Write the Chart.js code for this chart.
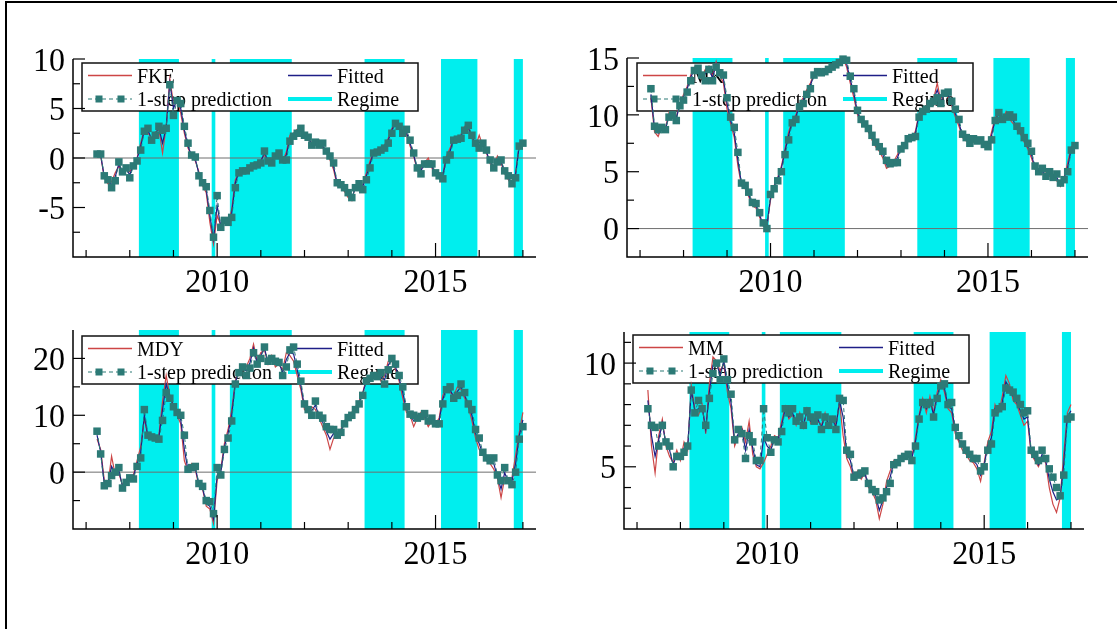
<!DOCTYPE html>
<html>
<head>
<meta charset="utf-8">
<script src="https://cdn.jsdelivr.net/npm/chart.js@4.4.1/dist/chart.umd.min.js"></script>
<style>
  html, body { margin: 0; padding: 0; background: #fff; }
  #page { position: relative; width: 1117px; height: 629px; overflow: hidden; background: #fff; }
  #page canvas { position: absolute; left: 0; top: 0; }
  #frame { position: absolute; left: 5px; top: 1px; width: 1112px; height: 628px;
           border-top: 2px solid #000; border-left: 2px solid #000; box-sizing: border-box; }
</style>
</head>
<body>
<div id="page">
  <div id="frame"></div>
  <canvas id="fke" width="1117" height="629"></canvas>
  <canvas id="mk" width="1117" height="629"></canvas>
  <canvas id="mdy" width="1117" height="629"></canvas>
  <canvas id="mm" width="1117" height="629"></canvas>
</div>
<script>
// monthly observations, April 2007 - January 2017
const startYear = 2007;
const startMonth = 4;

const xTickYears = [2007, 2008, 2009, 2010, 2011, 2012, 2013, 2014, 2015, 2016, 2017];
const xLabelYears = [2010, 2015];

// 1 = month inside the regime
const regime = [
  0,0,0,0,0,0,0,0,0,0, 0,0,1,1,1,1,1,1,1,1, 1,1,1,0,0,0,0,0,0,0,
  0,0,1,0,0,0,0,1,1,1, 1,1,1,1,1,1,1,1,1,1, 1,1,1,1,0,0,0,0,0,0,
  0,0,0,0,0,0,0,0,0,0, 0,0,0,0,1,1,1,1,1,1, 1,1,1,1,1,0,0,0,0,0,
  0,0,0,0,0,1,1,1,1,1, 1,1,1,1,1,0,0,0,0,0, 0,0,0,0,0,1,1,1
];

// FKE
const fkeActual = [
  0.5,0.2,-2.0,-2.6,-2.4,-1.5,-0.8,-1.6,-1.2,-1.4,
  -0.6,0.0,1.5,2.9,2.5,2.0,2.6,2.9,0.5,3.2,
  8.0,5.5,6.0,4.5,2.5,1.0,0.2,-0.3,-1.4,-2.8,
  -3.5,-6.5,-8.7,-5.8,-6.8,-6.2,-6.6,-5.2,-2.2,-1.4,
  -1.5,-1.0,-1.2,-0.6,-0.9,-0.2,0.3,-0.4,-0.1,0.4,
  0.3,-0.3,0.6,2.3,2.5,2.9,2.8,2.0,1.8,1.6,
  1.4,1.8,1.0,0.5,-0.2,-1.2,-2.8,-2.9,-3.4,-4.0,
  -4.3,-2.8,-2.9,-2.7,-1.5,-0.3,0.6,0.8,0.9,1.3,
  2.0,3.0,3.6,2.9,2.6,2.4,1.2,0.2,-1.3,-1.1,
  -0.5,0.0,-1.0,-1.7,-2.0,-1.6,0.2,1.0,2.0,1.7,
  2.4,3.2,3.0,2.0,1.2,2.3,1.2,0.5,-0.6,-0.8,
  0.2,-0.5,-1.6,-2.2,-2.8,-1.5,1.4,1.6
];
const fkeFitted = [
  0.4,0.3,-1.9,-2.4,-2.7,-1.9,-0.6,-1.5,-1.1,-1.7,
  -0.7,-0.1,1.2,2.8,2.8,1.9,2.5,3.0,1.5,3.1,
  7.6,5.0,5.9,5.0,2.8,1.2,0.2,-0.1,-1.6,-2.6,
  -3.2,-5.8,-8.2,-4.8,-6.9,-6.2,-6.5,-5.6,-2.5,-1.4,
  -1.4,-1.1,-1.1,-0.7,-0.8,-0.3,0.5,-0.3,-0.3,0.3,
  0.4,-0.2,0.3,2.0,2.4,2.7,2.9,2.2,1.9,1.5,
  1.5,1.5,1.2,0.6,0.0,-0.9,-2.6,-2.8,-3.2,-3.8,
  -4.1,-2.9,-2.7,-2.9,-1.8,-0.6,0.6,0.7,0.8,1.2,
  1.8,2.8,3.6,3.0,2.5,2.6,1.5,0.3,-1.1,-1.3,
  -0.5,-0.3,-0.8,-1.6,-1.9,-1.8,0.0,0.7,1.9,1.8,
  2.2,3.0,3.1,2.2,1.3,1.6,1.3,0.6,-0.4,-0.9,
  -0.1,-0.3,-1.5,-2.0,-2.7,-1.7,1.3,1.5
];
const fkePred = [
  0.4,0.4,-1.8,-2.2,-3.0,-2.3,-0.4,-1.4,-1.0,-2.0,
  -0.8,-0.3,0.8,2.7,3.0,1.8,2.3,3.2,2.8,3.0,
  7.4,4.3,5.8,5.5,3.2,1.5,0.3,0.1,-1.8,-2.5,
  -2.9,-5.3,-8.0,-3.8,-7.0,-6.3,-6.5,-6.0,-3.0,-1.5,
  -1.3,-1.3,-1.0,-0.8,-0.7,-0.5,0.7,-0.3,-0.5,0.2,
  0.5,-0.2,-0.2,1.7,2.2,2.5,3.0,2.3,2.1,1.3,
  1.6,1.3,1.5,0.7,0.2,-0.5,-2.5,-2.7,-3.0,-3.5,
  -4.0,-3.0,-2.6,-3.2,-2.2,-1.0,0.5,0.6,0.8,1.0,
  1.5,2.5,3.5,3.2,2.5,2.9,1.8,0.5,-1.0,-1.6,
  -0.6,-0.6,-0.6,-1.5,-1.8,-2.1,-0.2,0.3,1.8,1.9,
  2.0,2.8,3.3,2.3,1.5,1.0,1.5,0.8,-0.2,-1.0,
  -0.4,-0.2,-1.3,-1.8,-2.6,-2.0,1.2,1.5
];
const fkeYTicks = [-7.5, -5, -2.5, 0, 2.5, 5, 7.5, 10];
const fkeYLabels = [-5, 0, 5, 10];

// MK
const mkActual = [
  11.5,8.5,8.1,9.0,8.8,10.2,9.7,9.8,11.0,11.8,
  12.5,13.5,14.2,13.8,13.2,14.0,14.3,13.4,14.7,13.5,
  12.8,10.5,9.2,8.0,5.5,3.8,3.5,2.8,2.0,1.8,
  1.0,0.2,0.3,2.5,3.8,4.5,5.5,7.0,8.5,9.5,
  10.0,11.0,11.5,12.2,12.8,13.6,13.7,13.9,14.0,14.2,
  14.4,14.6,14.8,15.0,14.2,12.8,11.5,10.0,9.3,9.0,
  8.5,7.8,7.2,6.8,6.2,5.3,5.5,5.9,6.5,7.2,
  7.5,8.0,7.8,8.6,10.2,10.4,10.8,11.2,11.4,12.8,
  11.2,12.0,11.5,10.8,9.8,9.0,8.0,7.7,7.8,7.6,
  7.9,7.5,7.3,7.3,8.5,9.8,10.0,9.5,10.3,9.6,
  9.2,8.7,8.3,7.6,7.0,6.2,5.2,5.1,4.8,4.9,
  4.6,4.7,4.2,3.7,4.5,5.8,7.2,7.5
];
const mkFitted = [
  11.8,8.8,8.4,9.0,8.7,10.0,9.8,9.7,10.9,11.6,
  12.3,13.3,14.0,13.9,13.3,13.6,14.2,13.2,14.5,13.6,
  13.2,11.0,9.5,8.4,6.0,3.9,3.6,3.0,2.1,2.0,
  1.2,0.3,0.1,2.8,3.7,4.4,5.3,6.8,8.2,9.4,
  9.8,10.9,11.3,12.0,12.6,13.5,13.7,13.8,13.9,14.1,
  14.3,14.5,14.7,14.9,14.5,13.1,11.9,10.2,9.4,9.1,
  8.6,8.0,7.4,7.0,6.5,5.6,5.6,5.8,6.2,7.1,
  7.4,7.9,7.9,8.4,10.0,10.3,10.6,11.1,11.3,12.2,
  11.1,11.9,11.8,11.0,10.1,9.3,8.1,7.8,7.6,7.7,
  7.8,7.6,7.4,7.2,8.2,9.6,10.1,9.6,10.0,9.8,
  9.5,8.8,8.4,7.8,7.2,6.5,5.3,5.0,5.0,4.7,
  4.8,4.6,4.5,3.8,4.4,5.4,7.0,7.4
];
const mkPred = [
  12.3,9.0,8.7,8.9,8.7,9.8,10.0,9.5,10.8,11.3,
  12.0,13.0,13.9,14.1,13.5,13.0,14.0,13.0,14.2,13.7,
  13.5,11.5,9.8,8.9,6.7,4.0,3.8,3.2,2.3,2.2,
  1.4,0.5,0.0,3.0,3.5,4.2,5.0,6.5,7.8,9.3,
  9.6,10.7,11.0,11.8,12.3,13.5,13.8,13.7,13.8,14.0,
  14.2,14.4,14.6,14.9,14.8,13.4,12.3,10.4,9.6,9.2,
  8.8,8.2,7.6,7.2,6.8,6.0,5.7,5.8,5.8,7.0,
  7.3,7.9,8.0,8.1,9.8,10.3,10.5,11.0,11.2,11.5,
  11.0,11.9,12.0,11.2,10.5,9.6,8.3,8.0,7.5,7.9,
  7.7,7.8,7.4,7.2,7.8,9.5,10.2,9.6,9.8,10.0,
  9.8,9.0,8.6,8.0,7.5,6.8,5.5,5.0,5.3,4.6,
  5.0,4.5,4.8,4.0,4.3,5.0,6.9,7.3
];
const mkYTicks = [0, 2.5, 5, 7.5, 10, 12.5, 15];
const mkYLabels = [0, 5, 10, 15];

// MDY
const mdyActual = [
  5.8,4.0,-1.5,-2.2,2.8,-0.5,-0.2,-2.3,-1.5,-1.5,
  -0.5,2.0,4.5,9.5,6.0,6.2,5.8,6.5,12.5,17.0,
  13.5,11.8,10.0,8.5,2.0,0.2,1.5,0.5,-2.5,-3.0,
  -6.0,-6.5,-9.0,-1.5,0.5,5.0,7.5,11.0,16.0,18.0,
  18.0,18.5,20.0,22.5,19.5,21.0,21.5,19.0,20.5,18.5,
  19.0,18.0,21.0,20.5,19.5,17.0,14.5,11.0,10.5,11.5,
  11.0,9.5,8.0,6.5,4.0,6.0,6.0,7.5,9.0,10.0,
  10.5,11.5,12.5,14.0,16.5,17.0,16.5,17.5,16.0,17.0,
  19.5,19.5,18.0,16.0,13.0,10.5,10.0,8.0,9.5,10.5,
  9.5,8.0,9.0,8.5,9.5,13.5,15.0,14.0,13.5,15.0,
  14.5,13.0,11.5,9.0,6.0,4.0,3.0,2.0,1.5,0.5,
  -1.0,-4.5,-1.0,-2.0,-1.0,3.0,7.0,10.5
];
const mdyFitted = [
  6.5,3.5,-2.0,-2.1,1.0,-0.3,0.3,-2.5,-1.6,-1.3,
  -0.8,1.5,3.5,10.0,6.2,6.2,5.9,6.2,11.0,15.5,
  13.2,11.6,10.2,9.2,4.0,0.3,1.2,0.8,-2.2,-2.8,
  -5.5,-6.0,-8.2,-0.5,0.0,4.5,6.8,10.0,15.8,17.8,
  18.2,17.8,19.2,21.8,19.2,20.5,21.8,19.2,20.2,19.0,
  19.2,17.5,19.8,21.0,20.8,18.0,15.2,11.5,10.8,10.8,
  11.8,9.8,8.8,7.2,5.8,6.8,6.2,7.2,8.8,9.8,
  10.2,11.2,12.2,13.8,16.2,16.8,16.8,17.2,16.8,16.2,
  18.8,19.8,18.5,16.5,14.0,11.0,10.1,9.0,9.5,10.2,
  9.9,8.5,9.2,8.5,9.0,12.8,14.8,14.5,13.2,14.2,
  15.0,13.5,11.8,10.0,6.8,5.0,3.2,2.2,1.8,1.5,
  -0.8,-3.0,-0.1,-1.8,-1.6,1.5,6.4,9.2
];
const mdyPred = [
  7.2,3.2,-2.4,-2.0,-0.6,0.0,0.8,-2.8,-1.8,-1.0,
  -1.2,1.0,2.5,11.0,6.5,6.2,6.0,5.8,9.1,14.0,
  13.0,11.5,10.5,10.0,6.5,0.5,0.8,1.0,-2.0,-2.5,
  -5.0,-5.2,-7.3,0.8,-0.5,4.0,6.0,9.0,15.5,17.5,
  18.5,17.0,18.3,21.0,19.0,20.0,22.0,19.5,20.0,19.5,
  19.3,17.0,18.5,21.5,22.0,19.0,16.0,12.0,11.0,10.0,
  12.5,10.0,9.5,8.0,7.5,7.5,6.5,7.0,8.5,9.6,
  10.0,11.0,12.0,13.5,16.0,16.5,17.0,16.8,17.5,15.5,
  18.0,20.0,19.0,17.0,15.0,11.5,10.2,10.0,9.5,9.8,
  10.3,9.0,9.5,8.5,8.5,12.0,14.5,15.0,13.0,13.5,
  15.5,14.0,12.0,11.0,7.5,6.0,3.5,2.5,2.0,2.5,
  -0.5,-1.5,0.8,-1.5,-2.2,0.0,5.8,8.0
];
const mdyYTicks = [-5, 0, 5, 10, 15, 20];
const mdyYLabels = [0, 10, 20];

// MM
const mmActual = [
  8.7,6.0,4.7,6.5,7.3,6.0,5.5,5.2,5.8,5.3,
  6.2,5.8,8.9,7.8,7.5,8.0,6.6,9.0,10.3,10.1,
  9.6,10.0,8.6,7.8,6.0,6.5,6.9,6.2,7.2,5.6,
  5.0,4.9,5.2,5.6,6.0,6.5,6.4,7.2,7.9,7.3,
  7.5,7.0,7.6,6.9,7.8,7.1,7.5,7.2,7.0,7.6,
  6.9,7.4,7.0,8.1,6.5,5.4,5.0,4.4,4.8,4.4,
  4.7,4.0,3.8,3.4,2.5,3.2,4.3,4.8,5.3,5.1,
  5.5,5.6,5.7,5.5,6.4,7.5,8.3,7.6,8.4,7.6,
  8.6,9.2,8.6,7.8,7.6,6.6,6.2,5.8,5.6,5.3,
  5.2,4.9,4.3,5.2,6.2,6.7,8.0,7.6,8.4,9.4,
  9.0,8.2,8.0,7.5,7.0,7.2,5.6,5.3,5.0,5.4,
  5.2,4.0,3.2,2.8,3.5,5.6,7.6,8.0
];
const mmFitted = [
  8.2,6.5,5.5,6.3,7.1,6.1,5.8,5.1,5.6,5.4,
  5.9,5.9,8.7,7.7,7.8,7.9,6.8,8.6,9.9,10.0,
  9.4,10.1,8.9,8.1,6.2,6.6,6.8,5.8,6.8,5.9,
  5.1,5.0,6.4,6.0,5.8,6.4,6.3,7.0,7.8,7.4,
  7.6,7.1,7.5,7.0,7.7,7.2,7.3,7.3,6.9,7.5,
  7.0,7.3,6.9,8.2,7.4,5.6,5.3,4.5,4.7,4.5,
  4.7,4.1,3.8,3.6,2.9,3.4,4.0,4.5,5.2,5.1,
  5.4,5.5,5.6,5.4,6.2,7.4,8.2,7.8,8.2,7.5,
  8.4,9.0,8.8,7.9,7.8,6.8,6.3,6.0,5.7,5.5,
  5.3,5.1,4.6,5.1,6.0,6.4,7.8,7.7,8.1,9.1,
  8.8,8.4,8.1,7.7,7.3,7.4,5.7,5.4,5.1,5.6,
  5.3,4.4,3.8,3.4,3.5,5.1,7.4,7.7
];
const mmPred = [
  7.8,7.0,6.9,6.0,7.0,6.2,6.0,5.0,5.5,5.5,
  5.7,6.0,8.7,7.6,8.2,7.8,7.0,8.3,9.5,10.0,
  9.2,10.2,9.2,8.5,6.3,6.8,6.6,5.4,6.5,6.2,
  5.3,5.3,7.8,6.4,5.7,6.3,6.2,6.7,7.8,7.6,
  7.8,7.2,7.4,7.0,7.7,7.4,7.2,7.5,6.8,7.4,
  7.0,7.3,6.8,8.3,8.2,5.8,5.6,4.5,4.6,4.7,
  4.8,4.2,3.9,3.8,3.4,3.5,3.8,4.2,5.1,5.2,
  5.4,5.5,5.6,5.3,6.0,7.3,8.1,8.0,8.1,7.4,
  8.3,8.9,9.0,8.0,8.1,6.9,6.5,6.1,5.8,5.6,
  5.4,5.4,4.8,5.0,5.8,6.1,7.6,7.8,7.9,8.8,
  8.7,8.6,8.3,8.0,7.6,7.7,5.8,5.6,5.3,5.8,
  5.4,4.9,4.5,4.0,3.6,4.6,7.3,7.4
];
const mmYTicks = [3, 4, 5, 6, 7, 8, 9, 10, 11];
const mmYLabels = [5, 10];

const RED = 'rgb(205,70,70)';
const BLUE = 'rgb(30,30,135)';
const TEAL = 'rgb(44,122,118)';
const CYAN = 'rgb(0,238,238)';
const W = 1117, H = 629;

const months = regime.map((_, i) => startYear + (startMonth - 1 + i) / 12);
const toPoints = values => values.map((v, i) => ({ x: months[i], y: v }));

const panels = [
  { id: 'fke', name: 'FKE', actual: fkeActual, fitted: fkeFitted, pred: fkePred,
    yMin: -10, yMax: 10, yTicks: fkeYTicks, yLabels: fkeYLabels,
    area: { left: 73, top: 59, right: 536, bottom: 257 }, legend: { x: 82, y: 63 } },
  { id: 'mk', name: 'MK', actual: mkActual, fitted: mkFitted, pred: mkPred,
    yMin: -2.5, yMax: 15, yTicks: mkYTicks, yLabels: mkYLabels,
    area: { left: 627, top: 58, right: 1088, bottom: 257 }, legend: { x: 637, y: 63 } },
  { id: 'mdy', name: 'MDY', actual: mdyActual, fitted: mdyFitted, pred: mdyPred,
    yMin: -10, yMax: 25, yTicks: mdyYTicks, yLabels: mdyYLabels,
    area: { left: 73, top: 330, right: 536, bottom: 529 }, legend: { x: 82, y: 336 } },
  { id: 'mm', name: 'MM', actual: mmActual, fitted: mmFitted, pred: mmPred,
    yMin: 2, yMax: 11.5, yTicks: mmYTicks, yLabels: mmYLabels,
    area: { left: 624, top: 332, right: 1084, bottom: 529 }, legend: { x: 633, y: 335 } }
];

// text a little taller than wide, like the original export
function drawText(ctx, s, x, y, sy) {
  ctx.save();
  ctx.translate(x, y);
  ctx.scale(1, sy);
  ctx.fillText(s, 0, 0);
  ctx.restore();
}

function drawLegend(chart, p) {
  const ctx = chart.ctx;
  const labels = chart.data.datasets.map(d => d.label);
  const bx = p.legend.x, by = p.legend.y, w = 336, h = 48;
  const r1 = by + 12.5, r2 = by + 36;
  ctx.save();
  ctx.fillStyle = '#fff';
  ctx.fillRect(bx, by, w, h);
  ctx.strokeStyle = '#111';
  ctx.lineWidth = 1.5;
  ctx.strokeRect(bx, by, w, h);

  const sample = (x0, y, color, width, dash) => {
    ctx.strokeStyle = color;
    ctx.lineWidth = width;
    ctx.setLineDash(dash || []);
    ctx.beginPath();
    ctx.moveTo(x0, y);
    ctx.lineTo(x0 + 44, y);
    ctx.stroke();
    ctx.setLineDash([]);
  };
  sample(bx + 6, r1, RED, 1.5);
  sample(bx + 206, r1, BLUE, 1.5);
  sample(bx + 6, r2, TEAL, 1.2, [4, 3]);
  ctx.fillStyle = TEAL;
  ctx.fillRect(bx + 17 - 3.5, r2 - 3.5, 7, 7);
  ctx.fillRect(bx + 39 - 3.5, r2 - 3.5, 7, 7);
  sample(bx + 206, r2, CYAN, 4);

  ctx.fillStyle = '#000';
  ctx.font = '20px "Liberation Serif", "Times New Roman", serif';
  ctx.textAlign = 'left';
  drawText(ctx, labels[0], bx + 55, r1 + 7.3, 1.1);
  drawText(ctx, labels[1], bx + 255, r1 + 7.3, 1.1);
  drawText(ctx, labels[2], bx + 55, r2 + 7.3, 1.1);
  drawText(ctx, labels[3], bx + 255, r2 + 7.3, 1.1);
  ctx.restore();
}

function drawAxes(chart, p) {
  const ctx = chart.ctx, a = chart.chartArea;
  const xs = chart.scales.x, ys = chart.scales.y;
  ctx.save();
  ctx.strokeStyle = '#000';
  ctx.lineWidth = 1.5;
  ctx.beginPath();
  ctx.moveTo(a.left, a.top);
  ctx.lineTo(a.left, a.bottom);
  ctx.lineTo(a.right, a.bottom);
  ctx.stroke();

  ctx.lineWidth = 1.2;
  p.yTicks.forEach(v => {
    const py = ys.getPixelForValue(v);
    const len = p.yLabels.includes(v) ? 12 : 7;
    ctx.beginPath();
    ctx.moveTo(a.left, py);
    ctx.lineTo(a.left + len, py);
    ctx.stroke();
  });
  xTickYears.forEach(yr => {
    const px = xs.getPixelForValue(yr);
    const len = xLabelYears.includes(yr) ? 14 : 7;
    ctx.beginPath();
    ctx.moveTo(px, a.bottom);
    ctx.lineTo(px, a.bottom - len);
    ctx.stroke();
  });

  ctx.fillStyle = '#000';
  ctx.font = '32px "Liberation Serif", "Times New Roman", serif';
  ctx.textAlign = 'right';
  p.yLabels.forEach(v => drawText(ctx, String(v), a.left - 8, ys.getPixelForValue(v) + 11.7, 1.08));
  ctx.textAlign = 'center';
  xLabelYears.forEach(yr => drawText(ctx, String(yr), xs.getPixelForValue(yr), a.bottom + 35, 1.08));
  ctx.restore();
}

function panelPlugin(p) {
  return {
    id: 'panel_' + p.id,
    afterDatasetDraw(chart, args) {
      if (chart.data.datasets[args.index].label !== 'Regime') return;
      const ctx = chart.ctx, a = chart.chartArea;
      if (p.yMin < 0) {
        const py = chart.scales.y.getPixelForValue(0);
        ctx.save();
        ctx.strokeStyle = 'rgb(110,110,110)';
        ctx.lineWidth = 1;
        ctx.beginPath();
        ctx.moveTo(a.left, py);
        ctx.lineTo(a.right, py);
        ctx.stroke();
        ctx.restore();
      }
      drawLegend(chart, p);
    },
    afterDatasetsDraw(chart) {
      drawAxes(chart, p);
    }
  };
}

panels.forEach(p => {
  const a = p.area;
  new Chart(document.getElementById(p.id), {
    type: 'line',
    data: {
      datasets: [
        { label: p.name, data: toPoints(p.actual), borderColor: RED, borderWidth: 1.2,
          pointRadius: 0, order: 3, clip: false },
        { label: 'Fitted', data: toPoints(p.fitted), borderColor: BLUE, borderWidth: 1.2,
          pointRadius: 0, order: 2, clip: false },
        { label: '1-step prediction', data: toPoints(p.pred), borderColor: TEAL, borderWidth: 1,
          borderDash: [4, 3], pointStyle: 'rect', pointRadius: 5.3, pointBorderWidth: 0,
          pointBackgroundColor: TEAL, order: 1, clip: false },
        { label: 'Regime', data: toPoints(regime), yAxisID: 'yR', stepped: 'middle', fill: 'origin',
          backgroundColor: CYAN, borderColor: 'rgba(0,0,0,0)', borderWidth: 0, pointRadius: 0, order: 10 }
      ]
    },
    options: {
      responsive: false,
      animation: false,
      devicePixelRatio: 1,
      events: [],
      layout: { padding: { left: a.left, top: a.top, right: W - a.right, bottom: H - a.bottom } },
      scales: {
        x: { type: 'linear', min: 2006.7, max: 2017.3, display: false },
        y: { min: p.yMin, max: p.yMax, display: false },
        yR: { min: 0, max: 1, display: false }
      },
      plugins: { legend: { display: false }, tooltip: { enabled: false } }
    },
    plugins: [panelPlugin(p)]
  });
});
</script>
</body>
</html>
